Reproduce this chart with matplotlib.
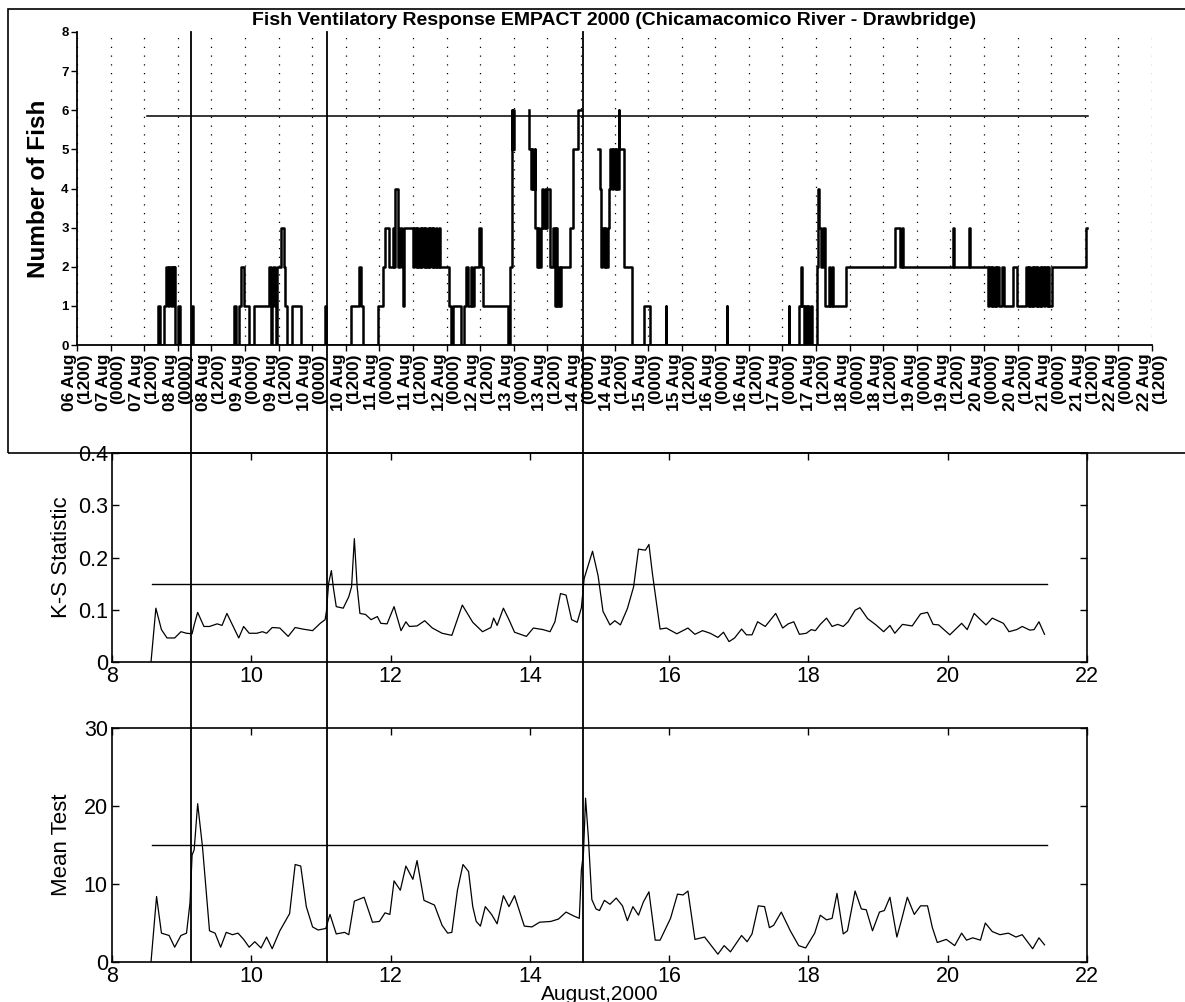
import matplotlib
matplotlib.use("Agg")
import matplotlib.pyplot as plt
import numpy as np
from matplotlib.patches import Rectangle
from matplotlib.lines import Line2D
from matplotlib.transforms import blended_transform_factory

plt.rcParams['font.family'] = ['Liberation Sans', 'DejaVu Sans']

# ---------------- data ----------------
TITLE = "Fish Ventilatory Response EMPACT 2000 (Chicamacomico River - Drawbridge)"

# top panel: time (August day, decimal) and number of fish (step data); NaN = gap
fish_day = [
    7.54, 7.70, 7.74, 7.80, 7.82, 7.85, 7.87, 7.90, 7.92, 7.94, 7.95, 7.96, 8.00, 8.04,
    8.21, 8.23, 8.83, 8.86, 8.91, 8.94, 8.98, 9.06, 9.13, 9.36, 9.38, 9.40, 9.42, 9.45,
    9.46, 9.47, 9.48, 9.54, 9.58, 9.60, 9.63, 9.70, 9.83, 10.19, 10.21, 10.58, 10.69,
    10.72, 10.75, 10.98, 11.06, 11.09, 11.15, 11.20, 11.22, 11.24, 11.28, 11.30, 11.33,
    11.35, 11.37, 11.50, 11.52, 11.54, 11.56, 11.58, 11.60, 11.62, 11.64, 11.66, 11.68,
    11.70, 11.72, 11.74, 11.76, 11.78, 11.80, 11.82, 11.84, 11.86, 11.89, 11.91, 12.04,
    12.07, 12.09, 12.21, 12.26, 12.29, 12.32, 12.36, 12.38, 12.41, 12.49, 12.52, 12.55,
    12.92, 12.95, 12.97, 12.98, 12.99, 13.00, 13.01, 13.22, 13.23, 13.25, 13.27, 13.29,
    13.31, 13.32, 13.34, 13.36, 13.38, 13.40, 13.42, 13.44, 13.46, 13.48, 13.50, 13.54,
    13.58, 13.61, 13.63, 13.65, 13.67, 13.69, 13.71, 13.84, 13.88, 13.96, 14.00, 14.26,
    14.28, 14.30, 14.32, 14.34, 14.36, 14.38, 14.40, 14.42, 14.44, 14.46, 14.48, 14.50,
    14.52, 14.54, 14.56, 14.57, 14.64, 14.76, 14.94, 15.03, 15.26, 15.27, 16.17, 16.18,
    17.09, 17.10, 17.24, 17.27, 17.29, 17.32, 17.34, 17.36, 17.38, 17.40, 17.42, 17.44,
    17.51, 17.53, 17.55, 17.58, 17.60, 17.63, 17.64, 17.69, 17.71, 17.73, 17.75, 17.95,
    18.67, 18.75, 18.78, 18.80, 19.54, 19.56, 19.77, 19.79, 20.06, 20.08, 20.10, 20.12,
    20.14, 20.16, 20.18, 20.20, 20.22, 20.27, 20.30, 20.43, 20.49, 20.63, 20.65, 20.67,
    20.69, 20.71, 20.73, 20.75, 20.77, 20.79, 20.81, 20.83, 20.85, 20.87, 20.89, 20.91,
    20.93, 20.95, 20.97, 21.01, 21.52, 21.53]
fish_count = [
    0, 1, 0, 1, 2, 1, 2, 1, 2, 1, 2, 0, 1, 0,
    1, 0, 1, 0, 1, 2, 1, 0, 1, 2, 0, 1, 2, 1,
    0, 1, 2, 3, 2, 1, 0, 1, 0, 1, 0, 1, 2,
    1, 0, 1, 2, 3, 2, 3, 2, 4, 2, 3, 2,
    1, 3, 2, 3, 2, 3, 2, 3, 2, 3, 2, 3,
    2, 3, 2, 3, 2, 3, 2, 3, 2, 3, 2, 1,
    0, 1, 0, 1, 2, 1, 2, 1, 2, 3, 2, 1,
    0, 2, 6, 5, 6, 5, np.nan, 6, 5, 4, 5, 4,
    5, 3, 2, 3, 2, 3, 4, 3, 4, 3, 4, 2,
    3, 1, 3, 1, 2, 1, 2, 3, 5, 6, np.nan, 5,
    4, 2, 3, 2, 3, 2, 3, 4, 5, 4, 5, 4,
    5, 4, 6, 5, 2, 0, 1, 0, 1, 0, 1, 0,
    1, 0, 1, 2, 1, 0, 1, 0, 1, 0, 1, 0,
    2, 4, 3, 2, 3, 2, 1, 2, 1, 2, 1, 2,
    3, 2, 3, 2, 3, 2, 3, 2, 1, 2, 1, 2,
    1, 2, 1, 2, 1, 2, 1, 2, 1, 2, 1, 2,
    1, 2, 1, 2, 1, 2, 1, 2, 1, 2, 1, 2,
    1, 2, 1, 2, 3, 3]
fish_thresh_day = [7.54, 21.54]
fish_thresh = 5.85

top_ticks = [6.5 + 0.5 * i for i in range(33)]
top_ticklabels = [
    "06 Aug\n(1200)", "07 Aug\n(0000)", "07 Aug\n(1200)", "08 Aug\n(0000)", "08 Aug\n(1200)",
    "09 Aug\n(0000)", "09 Aug\n(1200)", "10 Aug\n(0000)", "10 Aug\n(1200)", "11 Aug\n(0000)",
    "11 Aug\n(1200)", "12 Aug\n(0000)", "12 Aug\n(1200)", "13 Aug\n(0000)", "13 Aug\n(1200)",
    "14 Aug\n(0000)", "14 Aug\n(1200)", "15 Aug\n(0000)", "15 Aug\n(1200)", "16 Aug\n(0000)",
    "16 Aug\n(1200)", "17 Aug\n(0000)", "17 Aug\n(1200)", "18 Aug\n(0000)", "18 Aug\n(1200)",
    "19 Aug\n(0000)", "19 Aug\n(1200)", "20 Aug\n(0000)", "20 Aug\n(1200)", "21 Aug\n(0000)",
    "21 Aug\n(1200)", "22 Aug\n(0000)", "22 Aug\n(1200)"]

# K-S statistic
ks_day = [
    8.56, 8.63, 8.71, 8.79, 8.90, 8.99, 9.07, 9.15, 9.18, 9.23, 9.32, 9.40, 9.51, 9.58,
    9.65, 9.73, 9.82, 9.89, 9.97, 10.08, 10.16, 10.22, 10.30, 10.41, 10.53, 10.63, 10.74,
    10.88, 10.99, 11.06, 11.08, 11.11, 11.15, 11.18, 11.22, 11.32, 11.40, 11.44, 11.48,
    11.52, 11.56, 11.64, 11.72, 11.81, 11.86, 11.95, 12.05, 12.15, 12.22, 12.27, 12.38,
    12.49, 12.60, 12.74, 12.88, 13.03, 13.18, 13.32, 13.44, 13.48, 13.53, 13.62, 13.70,
    13.78, 13.95, 14.05, 14.19, 14.29, 14.36, 14.44, 14.52, 14.60, 14.68, 14.74, 14.78,
    14.90, 14.98, 15.05, 15.15, 15.22, 15.30, 15.40, 15.49, 15.56, 15.66, 15.71, 15.76,
    15.87, 15.96, 16.11, 16.27, 16.37, 16.48, 16.59, 16.70, 16.78, 16.86, 16.94, 17.04,
    17.11, 17.19, 17.27, 17.38, 17.53, 17.63, 17.71, 17.79, 17.87, 17.97, 18.04, 18.10,
    18.17, 18.26, 18.34, 18.42, 18.50, 18.57, 18.67, 18.74, 18.85, 18.97, 19.08, 19.17,
    19.24, 19.35, 19.49, 19.61, 19.71, 19.79, 19.87, 20.03, 20.20, 20.28, 20.38, 20.47,
    20.55, 20.64, 20.72, 20.80, 20.88, 20.99, 21.07, 21.18, 21.24, 21.31, 21.39]
ks_value = [
    0.0, 0.103, 0.062, 0.046, 0.046, 0.058, 0.055, 0.054, 0.071, 0.095, 0.068, 0.068, 0.073, 0.070,
    0.093, 0.071, 0.046, 0.068, 0.055, 0.055, 0.058, 0.055, 0.066, 0.065, 0.049, 0.066, 0.063,
    0.060, 0.074, 0.081, 0.098, 0.150, 0.175, 0.141, 0.106, 0.103, 0.125, 0.144, 0.236,
    0.144, 0.093, 0.091, 0.081, 0.087, 0.074, 0.073, 0.106, 0.060, 0.077, 0.068, 0.069,
    0.079, 0.065, 0.055, 0.051, 0.109, 0.076, 0.058, 0.066, 0.084, 0.070, 0.103, 0.081,
    0.057, 0.049, 0.065, 0.062, 0.058, 0.077, 0.131, 0.128, 0.081, 0.076, 0.104, 0.160,
    0.212, 0.165, 0.097, 0.071, 0.079, 0.071, 0.102, 0.144, 0.216, 0.214, 0.225, 0.169,
    0.063, 0.065, 0.054, 0.065, 0.053, 0.060, 0.055, 0.047, 0.057, 0.039, 0.046, 0.063,
    0.052, 0.052, 0.077, 0.068, 0.093, 0.065, 0.073, 0.077, 0.053, 0.055, 0.062, 0.060,
    0.072, 0.084, 0.068, 0.072, 0.068, 0.077, 0.099, 0.104, 0.083, 0.071, 0.058, 0.070,
    0.055, 0.072, 0.069, 0.092, 0.095, 0.072, 0.071, 0.052, 0.074, 0.062, 0.093, 0.081,
    0.071, 0.084, 0.079, 0.074, 0.058, 0.062, 0.068, 0.061, 0.062, 0.077, 0.053]
ks_thresh_day = [8.57, 21.42]
ks_thresh = 0.15

# Mean test
mean_day = [
    8.56, 8.64, 8.71, 8.82, 8.90, 8.99, 9.07, 9.12, 9.15, 9.18, 9.23, 9.30, 9.40, 9.48,
    9.56, 9.64, 9.73, 9.81, 9.89, 9.97, 10.05, 10.14, 10.22, 10.30, 10.41, 10.55, 10.63,
    10.71, 10.79, 10.88, 10.96, 11.07, 11.13, 11.22, 11.34, 11.40, 11.48, 11.62, 11.74,
    11.84, 11.92, 11.99, 12.05, 12.14, 12.22, 12.32, 12.38, 12.48, 12.63, 12.74, 12.82,
    12.88, 12.96, 13.04, 13.12, 13.18, 13.23, 13.29, 13.36, 13.45, 13.53, 13.62, 13.70,
    13.78, 13.92, 14.03, 14.14, 14.30, 14.41, 14.52, 14.63, 14.71, 14.74, 14.77, 14.80,
    14.84, 14.89, 14.95, 15.00, 15.07, 15.15, 15.24, 15.33, 15.40, 15.48, 15.56, 15.63,
    15.71, 15.80, 15.87, 16.02, 16.12, 16.20, 16.27, 16.37, 16.51, 16.70, 16.79, 16.88,
    17.04, 17.12, 17.19, 17.28, 17.37, 17.44, 17.50, 17.61, 17.74, 17.86, 17.96, 18.09,
    18.17, 18.26, 18.34, 18.41, 18.50, 18.56, 18.67, 18.76, 18.83, 18.92, 19.02, 19.09,
    19.17, 19.27, 19.34, 19.42, 19.52, 19.61, 19.71, 19.78, 19.85, 19.98, 20.10, 20.20,
    20.27, 20.36, 20.47, 20.54, 20.64, 20.75, 20.87, 20.98, 21.07, 21.22, 21.31, 21.39]
mean_value = [
    0.0, 8.4, 3.7, 3.4, 1.9, 3.4, 3.7, 7.6, 13.7, 14.4, 20.3, 14.7, 4.0, 3.7,
    1.9, 3.8, 3.5, 3.7, 2.9, 1.9, 2.6, 1.8, 3.2, 1.7, 4.0, 6.2, 12.5,
    12.3, 7.1, 4.5, 4.1, 4.3, 6.1, 3.6, 3.8, 3.5, 7.8, 8.3, 5.1,
    5.2, 6.3, 6.1, 10.4, 9.2, 12.3, 10.6, 13.0, 7.9, 7.3, 4.7, 3.7,
    3.8, 9.2, 12.5, 11.6, 7.1, 5.2, 4.6, 7.1, 6.1, 4.9, 8.5, 7.1,
    8.5, 4.6, 4.5, 5.1, 5.2, 5.5, 6.4, 5.9, 5.6, 11.8, 14.0, 21.0,
    16.0, 8.0, 6.8, 6.6, 7.9, 7.4, 8.2, 7.2, 5.3, 7.1, 6.0, 7.7,
    9.0, 2.8, 2.8, 5.6, 8.7, 8.6, 9.1, 2.9, 3.2, 1.0, 2.1, 1.3,
    3.4, 2.6, 3.6, 7.2, 7.1, 4.4, 4.7, 6.4, 4.0, 2.1, 1.8, 3.7,
    6.0, 5.4, 5.6, 8.8, 3.6, 4.0, 9.1, 6.8, 6.7, 4.0, 6.4, 6.6,
    8.3, 3.2, 5.5, 8.3, 6.1, 7.2, 7.2, 4.4, 2.5, 2.9, 2.1, 3.7,
    2.8, 3.1, 2.8, 5.0, 3.9, 3.5, 3.7, 3.2, 3.5, 1.7, 3.1, 2.2]
mean_thresh_day = [8.57, 21.42]
mean_thresh = 15.0

event_days = [9.13, 11.09, 14.76]

# ---------------- figure ----------------
W, H = 1185, 1002
fig = plt.figure(figsize=(W / 100, H / 100), dpi=100)

def fx(px):
    return px / W

def fy(py):
    return 1 - py / H

# outer frame around top panel
fig.add_artist(Rectangle((fx(8), fy(453)), 1.5, (453 - 9) / H, transform=fig.transFigure,
                         fill=False, lw=1.2, ec='black', clip_on=False))

# top panel
ax1 = fig.add_axes([fx(77), fy(345), (1152 - 77) / W, (345 - 32) / H])
ax1.plot(fish_day, fish_count, drawstyle='steps-post', color='black', lw=1.8)
ax1.plot(fish_thresh_day, [fish_thresh, fish_thresh], color='black', lw=1.1)
ax1.set_xlim(6.5, 22.5)
ax1.set_ylim(0, 8)
ax1.set_xticks(top_ticks)
ax1.set_xticklabels(top_ticklabels, rotation=90, fontsize=12.5, fontweight='bold',
                    linespacing=1.0)
for lbl in ax1.get_xticklabels():
    lbl.set_multialignment('right')
ax1.set_yticks(range(9))
ax1.set_yticklabels([str(v) for v in range(9)], fontsize=9.5, fontweight='bold')
ax1.tick_params(direction='out', length=4, width=1, pad=2)
for s in ('top', 'right'):
    ax1.spines[s].set_visible(False)
for s in ('left', 'bottom'):
    ax1.spines[s].set_linewidth(1.3)
ax1.xaxis.grid(True, linestyle=(0, (1, 6)), color='black', lw=0.9)
ax1.set_axisbelow(True)
ax1.set_ylabel("Number of Fish", fontsize=17.5, fontweight='bold')
ax1.yaxis.set_label_coords(-0.025, 0.5)
ax1.set_title(TITLE, fontsize=14, fontweight='bold', pad=5)

# K-S panel
ax2 = fig.add_axes([fx(112), fy(662), (1087 - 112) / W, (662 - 453) / H])
ax2.plot(ks_day, ks_value, color='black', lw=0.9)
ax2.plot(ks_thresh_day, [ks_thresh, ks_thresh], color='black', lw=1.0)
ax2.set_xlim(8, 22)
ax2.set_ylim(0, 0.4)
ax2.set_xticks(range(8, 23, 2))
ax2.set_yticks([0, 0.1, 0.2, 0.3, 0.4])
ax2.set_yticklabels(["0", "0.1", "0.2", "0.3", "0.4"])
ax2.set_ylabel("K-S Statistic", fontsize=16)
ax2.yaxis.set_label_coords(-0.041, 0.5)

# Mean test panel
ax3 = fig.add_axes([fx(112), fy(962), (1087 - 112) / W, (962 - 728) / H])
ax3.plot(mean_day, mean_value, color='black', lw=0.9)
ax3.plot(mean_thresh_day, [mean_thresh, mean_thresh], color='black', lw=1.0)
ax3.set_xlim(8, 22)
ax3.set_ylim(0, 30)
ax3.set_xticks(range(8, 23, 2))
ax3.set_yticks([0, 10, 20, 30])
ax3.set_ylabel("Mean Test", fontsize=16)
ax3.yaxis.set_label_coords(-0.041, 0.5)

for ax in (ax2, ax3):
    ax.tick_params(direction='in', length=5, width=1, top=True, right=True,
                   labelsize=15.5, pad=3)
    for s in ax.spines.values():
        s.set_linewidth(1.2)

fig.text(fx(600), fy(994), "August,2000", ha='center', va='center', fontsize=15)

# event lines spanning all panels
trans = blended_transform_factory(ax3.transData, fig.transFigure)
for d in event_days:
    fig.add_artist(Line2D([d, d], [fy(962), fy(32)], transform=trans, color='black', lw=1.3))

fig.savefig("out.png", dpi=100)
